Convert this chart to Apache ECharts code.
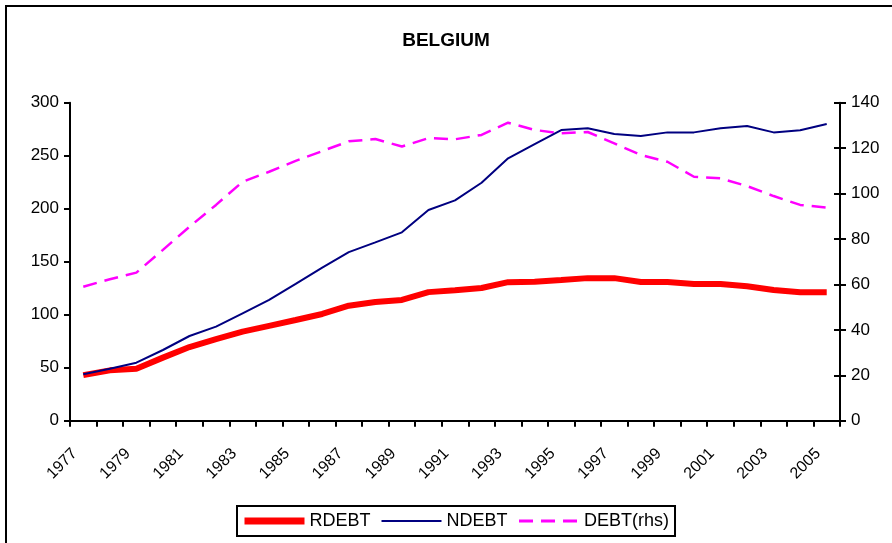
<!DOCTYPE html>
<html>
<head>
<meta charset="utf-8">
<script src="https://cdn.jsdelivr.net/npm/echarts@6/dist/echarts.min.js"></script>
<style>
  html, body { margin: 0; padding: 0; background: #fff; }
  #chart_container { width: 892px; height: 543px; }
</style>
</head>
<body>
<div id="chart_container"></div>
<script>
// years on the category axis
const years = [];
for (let y = 1977; y <= 2005; y++) years.push(String(y));

// left axis (index)
const rdebt = [43, 47.5, 49, 59.5, 69.5, 77, 84, 89.5, 95, 100.7, 108.5, 112, 113.9, 121.3, 123, 125.2,
               130.7, 131, 132.7, 134.5, 134.5, 130.8, 130.8, 129, 129, 126.8, 123.3, 121.1, 121.1];
const ndebt = [43.8, 49, 54.7, 66.7, 79.9, 88.7, 101.3, 113.9, 129, 144.5, 159, 168.2, 177.7, 198.8, 207.8, 224.5,
               247.5, 261, 274.2, 275.8, 270.5, 268.6, 272, 272, 275.8, 278, 272, 274, 279.9];
// right axis (% of GDP)
const debt = [59, 62.3, 65.2, 75.2, 85.4, 95, 105.2, 109.6, 114.4, 118.7, 123, 124, 120.7, 124.4, 123.9, 125.8,
              131.2, 128, 126.5, 127.1, 122.1, 117, 114, 107.4, 106.7, 103.3, 98.9, 95, 93.8];

const leftTicks = { min: 0, max: 300, interval: 50 };
const rightTicks = { min: 0, max: 140, interval: 20 };

const fontFamily = 'Liberation Sans, Arial, sans-serif';
const labelFont = { fontFamily: fontFamily, fontSize: 17, color: '#000' };
const black = { color: '#000', width: 2 };

document.addEventListener("DOMContentLoaded", function () {
    let chart = echarts.init(document.getElementById('chart_container'));

    let option = {
        backgroundColor: '#fff',
        animation: false,
        title: {
            text: 'BELGIUM',
            left: 'center',
            top: 26,
            textStyle: { fontFamily: fontFamily, fontSize: 19, fontWeight: 'bold', color: '#000' }
        },
        // outer frame of the chart area
        graphic: [{
            type: 'rect',
            shape: { x: 6, y: 6, width: 900, height: 600 },
            style: { fill: 'none', stroke: '#000', lineWidth: 2 },
            silent: true
        }],
        grid: { left: 70, right: 52, top: 102.7, bottom: 122.3 },
        legend: {
            left: 237,
            top: 506,
            padding: [6, 6, 6, 4],
            itemGap: 10,
            itemWidth: 60,
            itemHeight: 14,
            borderColor: '#000',
            borderWidth: 2,
            itemStyle: { color: 'rgba(0,0,0,0)', borderColor: 'rgba(0,0,0,0)', borderWidth: 0 },
            textStyle: { fontFamily: fontFamily, fontSize: 18, color: '#000' },
            data: [
                { name: 'RDEBT', lineStyle: { width: 7 } },
                { name: 'NDEBT', lineStyle: { width: 2 } },
                { name: 'DEBT(rhs)', lineStyle: { width: 3 } }
            ]
        },
        xAxis: {
            type: 'category',
            data: years,
            boundaryGap: true,
            axisLine: { lineStyle: black },
            axisTick: { show: true, length: 6, interval: 0, lineStyle: black },
            axisLabel: { interval: 1, rotate: 45, margin: 22, padding: [0, 12, 0, 0],
                         fontFamily: fontFamily, fontSize: 16, color: '#000' },
            splitLine: { show: false }
        },
        yAxis: [
            Object.assign({
                type: 'value',
                position: 'left',
                axisLine: { show: true, lineStyle: black },
                axisTick: { show: true, length: 6, lineStyle: black },
                axisLabel: Object.assign({ margin: 11 }, labelFont),
                splitLine: { show: false }
            }, leftTicks),
            Object.assign({
                type: 'value',
                position: 'right',
                axisLine: { show: true, lineStyle: black },
                axisTick: { show: true, length: 6, lineStyle: black },
                axisLabel: Object.assign({ margin: 11 }, labelFont),
                splitLine: { show: false }
            }, rightTicks),
            // inner half of the crossing ticks on the right axis
            Object.assign({
                type: 'value',
                position: 'right',
                axisLine: { show: false },
                axisTick: { show: true, inside: true, length: 6, lineStyle: black },
                axisLabel: { show: false },
                splitLine: { show: false }
            }, rightTicks)
        ],
        series: [
            {
                name: 'RDEBT', type: 'line', yAxisIndex: 0, data: rdebt,
                showSymbol: false, symbol: 'none',
                lineStyle: { color: '#ff0000', width: 6 },
                itemStyle: { color: '#ff0000' },
                z: 3
            },
            {
                name: 'NDEBT', type: 'line', yAxisIndex: 0, data: ndebt,
                showSymbol: false, symbol: 'none',
                lineStyle: { color: '#000080', width: 2 },
                itemStyle: { color: '#000080' },
                z: 4
            },
            {
                name: 'DEBT(rhs)', type: 'line', yAxisIndex: 1, data: debt,
                showSymbol: false, symbol: 'none',
                lineStyle: { color: '#ff00ff', width: 2.5, type: [14, 8] },
                itemStyle: { color: '#ff00ff' },
                z: 2
            }
        ]
    };

    if (chart) {
        chart.setOption(option);
    } else {
        console.error("Echart instance failed to init");
    }
});
</script>
</body>
</html>
